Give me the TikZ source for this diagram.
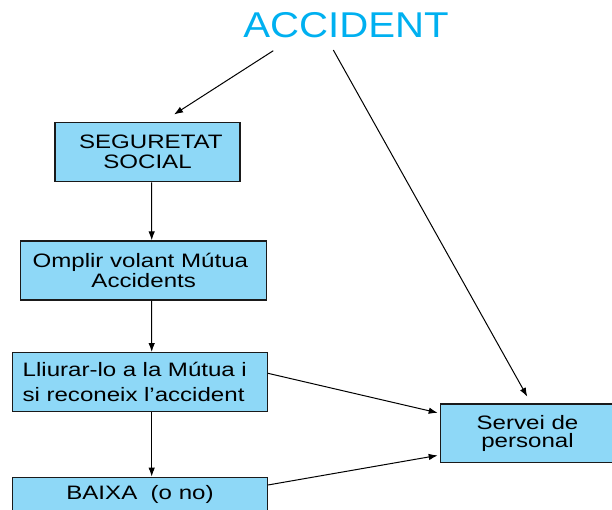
\documentclass[tikz,border=0pt]{standalone}
\usepackage{fontspec}
\setmainfont{Liberation Sans}
\newfontfamily\boxfont[FakeStretch=1.24]{Liberation Sans}
\newfontfamily\titlefont[FakeStretch=1.12]{Liberation Sans}
\usetikzlibrary{arrows.meta}
\definecolor{boxfill}{HTML}{8ED8F7}
\definecolor{titlecol}{HTML}{00B0F0}
\definecolor{edgecol}{HTML}{1A1A1A}
\begin{document}
\begin{tikzpicture}[x=1bp,y=-1bp,
  box/.style={draw=edgecol,line width=1.3bp,fill=boxfill,inner sep=0pt,align=center,
    font=\boxfont\fontsize{19.5}{20.3}\selectfont},
  arr/.style={draw=black,line width=1bp,-{Latex[length=9bp,width=6.5bp]}}]
\useasboundingbox (0,0) rectangle (612,510);
\node[anchor=base,text=titlecol,font=\titlefont\fontsize{36}{40}\selectfont,inner sep=0pt] (acc) at (346,37.3) {ACCIDENT};
\node[box,minimum width=185bp,minimum height=59bp] (seg) at (147.5,152.2) {\hspace*{6.7bp}SEGURETAT\\SOCIAL};
\node[box,minimum width=246bp,minimum height=59bp] (omp) at (143.7,270.5) {Omplir volant Mútua\hphantom{\ }\\Accidents};
\node[box,minimum width=254.6bp,minimum height=59bp,align=left,text width=234.6bp,inner xsep=10bp,
  font=\boxfont\fontsize{19.5}{25.3}\selectfont] (lli) at (140,382.2) {Lliurar-lo a la Mútua i\\si reconeix l’accident};
\node[box,minimum width=254.6bp,minimum height=59bp,text height=14bp,text depth=29bp] (baixa) at (140,506.8) {BAIXA\ \ (o no)};
\node[box,minimum width=173.6bp,minimum height=58.7bp,font=\boxfont\fontsize{19.5}{18}\selectfont] (serv) at (527.5,433.35) {Servei de\\personal};
\coordinate (a1) at (273.3,50.7);
\coordinate (t1) at (174,114.5);
\coordinate (a2) at (333.3,50);
\coordinate (t2) at (527.3,396.7);
\draw[arr] (a1) -- (t1);
\draw[arr] (a2) -- (t2);
\draw[arr] ([xshift=4.2bp]seg.south) -- ([xshift=8bp]omp.north);
\draw[arr] ([xshift=8bp]omp.south) -- ([xshift=11.7bp]lli.north);
\draw[arr] ([xshift=11.7bp]lli.south) -- ([xshift=11.7bp]baixa.north);
\draw[arr,shorten >=2.4bp] ([yshift=8.9bp]lli.east) -- ([yshift=20bp]serv.west);
\draw[arr,shorten >=2.4bp] ([yshift=21.8bp]baixa.east) -- ([yshift=-21.65bp]serv.west);
\end{tikzpicture}
\end{document}
